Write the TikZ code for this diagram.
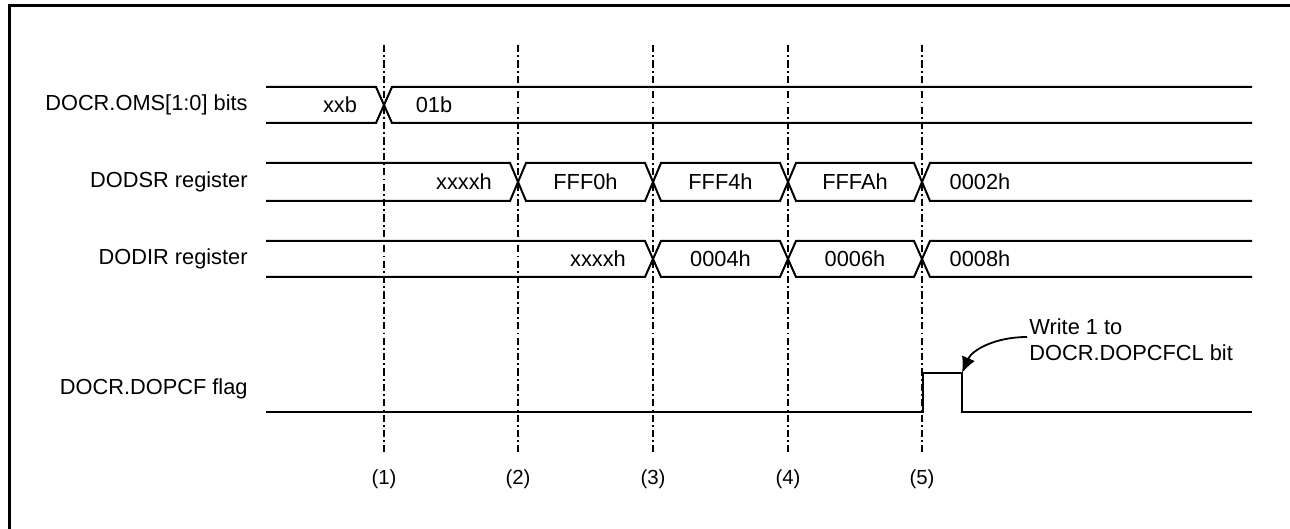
\documentclass[tikz,border=0pt]{standalone}
\usepackage{fontspec}
\setmainfont{Liberation Sans}
\usepackage{tikz}
\usetikzlibrary{arrows.meta}

\begin{document}
\begin{tikzpicture}[x=0.5pt, y=-0.5pt,
    sig/.style={line width=1pt, line join=miter},
    cutline/.style={line width=1.25pt, dash pattern=on 3.6pt off 1.6pt on 0.9pt off 1.6pt},
    lbl/.style={font=\fontsize{10.9}{13}\selectfont, inner sep=0pt},
    num/.style={font=\fontsize{10.2}{12}\selectfont, inner sep=0pt}]
  \useasboundingbox (0,0) rectangle (1290,529);
  \clip (0,0) rectangle (1290,529);
  % outer frame, cut by the page on the right and bottom
  \draw[line width=1.5pt] (9.5,5.5) rectangle (1300,540);

  % signal names
  \node[lbl, anchor=east] (omsname) at (248,105) {DOCR.OMS[1:0] bits};
  \node[lbl, anchor=east] (dodsrname) at (248,182) {DODSR register};
  \node[lbl, anchor=east] (dodirname) at (248,259) {DODIR register};
  \node[lbl, anchor=east] (flagname) at (248,389) {DOCR.DOPCF flag};

  % DOCR.OMS[1:0]: (x,top) -- ... two crossing paths per bus
  \draw[sig] (266,87) -- (376,87) -- (392,123) -- (1252,123);
  \draw[sig] (266,123) -- (376,123) -- (392,87) -- (1252,87);
  \node[lbl] (omsold) at (340,105) {xxb};
  \node[lbl] (omsnew) at (434,105) {01b};

  % DODSR
  \draw[sig] (266,163) -- (510,163) -- (526,201) -- (645,201) -- (661,163) -- (780,163)
    -- (796,201) -- (914,201) -- (930,163) -- (1252,163);
  \draw[sig] (266,201) -- (510,201) -- (526,163) -- (645,163) -- (661,201) -- (780,201)
    -- (796,163) -- (914,163) -- (930,201) -- (1252,201);
  \node[lbl] (dsr0) at (464,182) {xxxxh};
  \node[lbl] (dsr1) at (585.5,182) {FFF0h};
  \node[lbl] (dsr2) at (720.5,182) {FFF4h};
  \node[lbl] (dsr3) at (855,182) {FFFAh};
  \node[lbl] (dsr4) at (980,182) {0002h};

  % DODIR
  \draw[sig] (266,241) -- (645,241) -- (661,277) -- (780,277)
    -- (796,241) -- (914,241) -- (930,277) -- (1252,277);
  \draw[sig] (266,277) -- (645,277) -- (661,241) -- (780,241)
    -- (796,277) -- (914,277) -- (930,241) -- (1252,241);
  \node[lbl] (dir0) at (598,259) {xxxxh};
  \node[lbl] (dir1) at (720.5,259) {0004h};
  \node[lbl] (dir2) at (855,259) {0006h};
  \node[lbl] (dir3) at (980,259) {0008h};

  % DOCR.DOPCF flag
  \draw[sig] (266,412) -- (923,412) -- (923,373) -- (962,373) -- (962,412) -- (1252,412);
  \coordinate (clrcorner) at (962,373);
  \node[lbl, anchor=north west, align=left] (clrnote) at (1029,318) {Write 1 to\\DOCR.DOPCFCL bit};
  \coordinate (clrstart) at (1027,337);
  \draw[line width=0.9pt, -{Latex[length=8pt, width=7pt]}]
    (clrstart) .. controls (995,337) and (972,350) .. (clrcorner);

  % timing points
  \foreach \x/\n in {384/1, 518/2, 653/3, 788/4, 922/5}{
    \draw[cutline] (\x,45) -- (\x,452);
    \node[num] (pt\n) at (\x,479) {(\n)};
  }
\end{tikzpicture}
\end{document}
